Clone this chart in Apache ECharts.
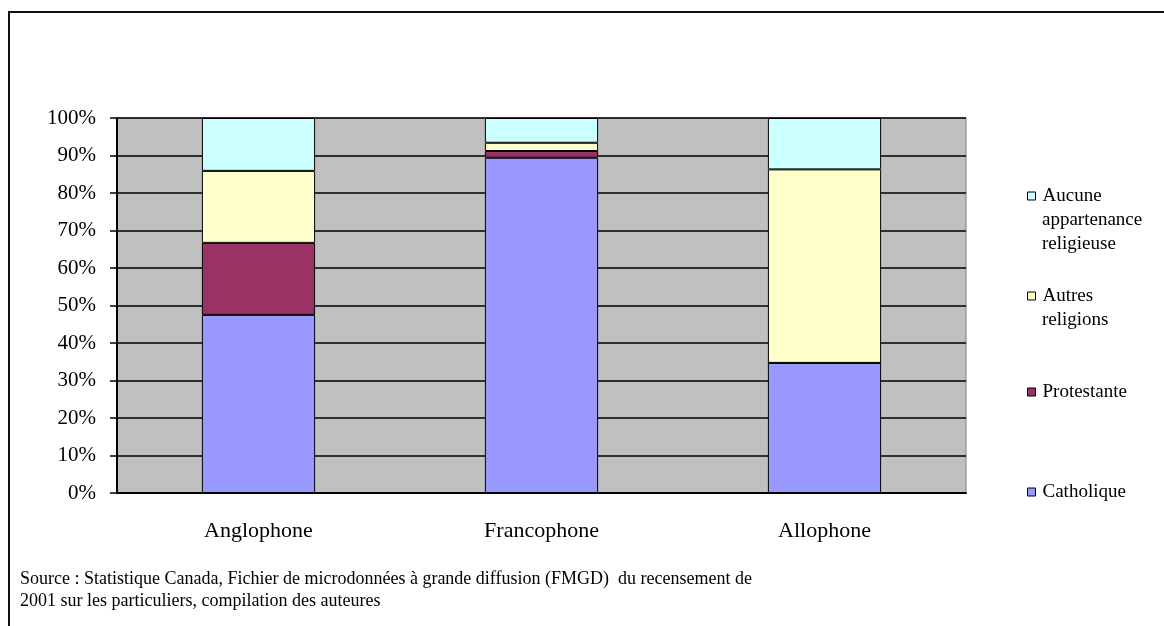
<!DOCTYPE html>
<html>
<head>
<meta charset="utf-8">
<style>
  html, body { margin: 0; padding: 0; background: #fff; }
  #chart { width: 1164px; height: 626px; }
</style>
<script src="https://cdn.jsdelivr.net/npm/echarts@6/dist/echarts.min.js"></script>
</head>
<body>
<div id="chart"></div>
<script>
  // données (en %)
  const categories = ['Anglophone', 'Francophone', 'Allophone'];
  const catholique = [47.5, 89.4, 34.7];
  const protestante = [19.2, 1.8, 0];
  const autres = [19.2, 2.2, 51.6];
  const aucune = [14.1, 6.6, 13.7];
  const yTicks = [0, 100, 10]; // min, max, pas

  const serif = 'Liberation Serif';
  const chartDom = document.getElementById('chart');
  const myChart = echarts.init(chartDom);

  function serie(name, data, color) {
    return {
      name: name,
      type: 'bar',
      stack: 'total',
      data: data,
      barCategoryGap: '60%',
      itemStyle: { color: color, borderColor: '#000', borderWidth: 1 }
    };
  }

  // une légende par série : la première ligne du libellé à côté du carré
  function legende(name, top, firstLine) {
    return {
      data: [name],
      left: 1027,
      top: top,
      padding: 0,
      icon: 'rect',
      itemWidth: 8,
      itemHeight: 8,
      selectedMode: false,
      itemStyle: { borderColor: '#000', borderWidth: 1 },
      formatter: function () { return firstLine; },
      textStyle: {
        fontFamily: serif,
        fontSize: 19,
        color: '#000',
        lineHeight: 24,
        padding: [0, 0, 0, 2]
      }
    };
  }

  // lignes suivantes des libellés longs
  function suite(y, text) {
    return {
      type: 'text',
      x: 1042,
      y: y,
      silent: true,
      style: {
        text: text,
        fontFamily: serif,
        fontSize: 19,
        lineHeight: 24,
        verticalAlign: 'top',
        fill: '#000'
      }
    };
  }

  const option = {
    animation: false,
    grid: {
      left: 117, top: 118, right: 198, bottom: 133,
      containLabel: false,
      show: true,
      backgroundColor: '#C0C0C0',
      borderColor: '#808080',
      borderWidth: 1
    },
    legend: [
      legende('Aucune appartenance religieuse', 184, 'Aucune'),
      legende('Autres religions', 284, 'Autres'),
      legende('Protestante', 380, 'Protestante'),
      legende('Catholique', 480, 'Catholique')
    ],
    xAxis: {
      type: 'category',
      data: categories,
      axisLine: { lineStyle: { color: '#000', width: 2 } },
      axisTick: { length: 6, lineStyle: { color: '#000', width: 1.5 } },
      axisLabel: { fontFamily: serif, fontSize: 22, color: '#000', margin: 27 }
    },
    yAxis: {
      type: 'value',
      min: yTicks[0],
      max: yTicks[1],
      interval: yTicks[2],
      axisLine: { show: true, lineStyle: { color: '#000', width: 2 } },
      axisTick: { show: true, length: 7, lineStyle: { color: '#000', width: 1.5 } },
      axisLabel: { formatter: '{value}%', fontFamily: serif, fontSize: 21, color: '#000', margin: 21 },
      splitLine: { lineStyle: { color: '#000', width: 1.5 } }
    },
    series: [
      serie('Catholique', catholique, '#9999FF'),
      serie('Protestante', protestante, '#993366'),
      serie('Autres religions', autres, '#FFFFCC'),
      serie('Aucune appartenance religieuse', aucune, '#CCFFFF')
    ],
    graphic: [
      {
        type: 'rect',
        shape: { x: 9, y: 12, width: 1200, height: 700 },
        style: { fill: 'none', stroke: '#111', lineWidth: 2 },
        silent: true
      },
      suite(208, 'appartenance\nreligieuse'),
      suite(308, 'religions'),
      {
        type: 'text',
        left: 20,
        top: 568,
        style: {
          text: 'Source : Statistique Canada, Fichier de microdonnées à grande diffusion (FMGD)  du recensement de\n2001 sur les particuliers, compilation des auteures',
          fontFamily: serif,
          fontSize: 18,
          lineHeight: 22,
          fill: '#000'
        }
      }
    ]
  };

  myChart.setOption(option);
</script>
</body>
</html>
